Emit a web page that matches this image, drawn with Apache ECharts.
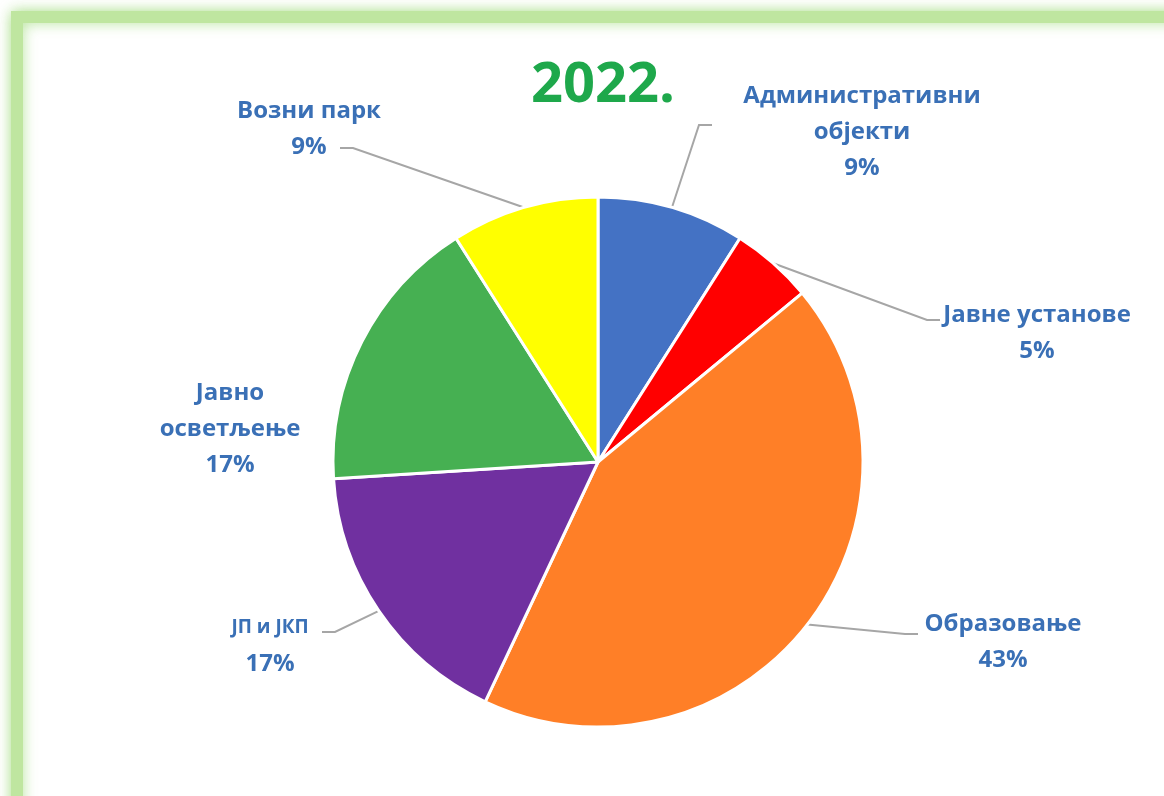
<!DOCTYPE html>
<html>
<head>
<meta charset="utf-8">
<title>2022.</title>
<script src="https://cdn.jsdelivr.net/npm/echarts@6/dist/echarts.min.js"></script>
<style>
	html, body { margin: 0; padding: 0; background: #fff; }
	#main { width: 1164px; height: 796px; }
</style>
</head>
<body>
<div id="main"></div>
<script>
	// податки
	var categories = ['Административни\nобјекти', 'Јавне установе', 'Образовање', 'ЈП и ЈКП', 'Јавно\nосветљење', 'Возни парк'];
	var shares = [9, 5, 43, 17, 17, 9];
	var colors = ['#4472c4', '#ff0000', '#ff7f27', '#7030a0', '#46b052', '#ffff00'];

	// положај натписа: [центар x, врх y, крај линије x, крај линије y, смер колена]
	var labelPlace = [
		[862, 78, 712, 125, -1],
		[1037, 297, 940, 320, -1],
		[1003, 606, 918, 634, -1],
		[270, 610, 322, 632, 1],
		[230, 375, null, null, 0],
		[309, 93, 340, 148, 1]
	];

	var dom = document.getElementById('main');
	var myChart = echarts.init(dom);

	var seriesData = categories.map(function (name, i) {
		return { name: name, value: shares[i], itemStyle: { color: colors[i] } };
	});

	var option = {
		backgroundColor: '#ffffff',
		animation: false,
		graphic: [
			{
				type: 'rect',
				shape: { x: 17, y: 17, width: 1200, height: 900 },
				style: {
					fill: '#ffffff',
					stroke: '#bfe6a0',
					lineWidth: 12,
					shadowBlur: 14,
					shadowColor: 'rgba(150,215,110,0.7)'
				},
				z: -10
			}
		],
		title: {
			text: '2022.',
			left: 598,
			top: 53,
			textAlign: 'center',
			textStyle: {
				fontFamily: 'Open Sans',
				fontWeight: 'bold',
				fontSize: 56,
				color: '#1ea84b'
			}
		},
		series: [
			{
				type: 'pie',
				center: [598, 462],
				radius: 265,
				startAngle: 90,
				clockwise: true,
				data: seriesData,
				itemStyle: { borderColor: '#ffffff', borderWidth: 3 },
				emphasis: { disabled: true },
				label: {
					show: true,
					position: 'outside',
					formatter: function (p) {
						var key = p.name === 'ЈП и ЈКП' ? 's' : 'n';
						var lines = p.name.split('\n').map(function (t) { return '{' + key + '|' + t + '}'; });
						return lines.join('\n') + '\n{n|' + Math.round(p.percent) + '%}';
					},
					rich: {
						n: { fontFamily: 'Open Sans', fontWeight: 'bold', fontSize: 24, lineHeight: 36, color: '#3a70b6', align: 'center' },
						s: { fontFamily: 'Open Sans', fontWeight: 'bold', fontSize: 19, lineHeight: 36, color: '#3a70b6', align: 'center' }
					}
				},
				labelLine: {
					show: true,
					lineStyle: { color: '#a6a6a6', width: 2 }
				},
				labelLayout: function (params) {
					var pl = labelPlace[params.dataIndex];
					var pts = params.labelLinePoints;
					var out = { x: pl[0], y: pl[1], align: 'center', verticalAlign: 'top' };
					if (pl[2] === null) {
						out.labelLinePoints = [pts[0], pts[0], pts[0]];
					} else {
						out.labelLinePoints = [
							pts[0],
							[pl[2] + pl[4] * 13, pl[3]],
							[pl[2], pl[3]]
						];
					}
					return out;
				}
			}
		]
	};

	myChart.setOption(option, true);
</script>
</body>
</html>
